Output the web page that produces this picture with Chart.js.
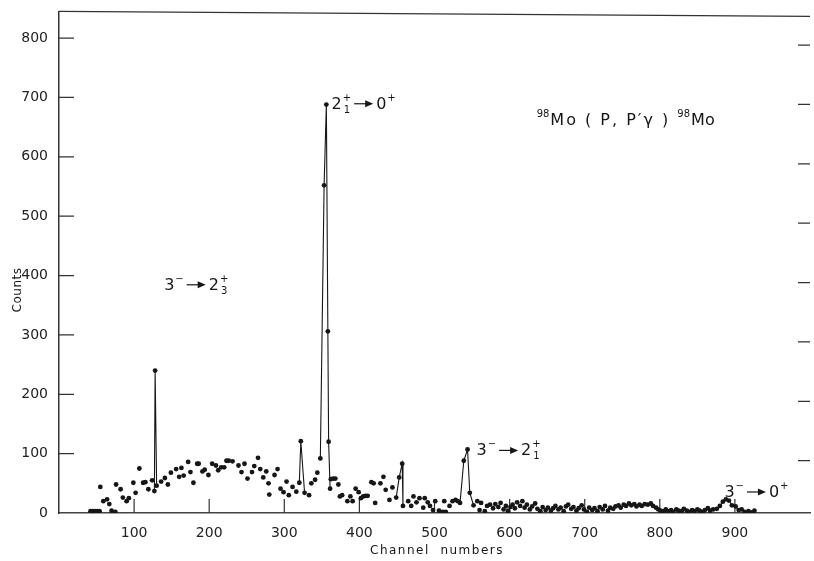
<!DOCTYPE html>
<html>
<head>
<meta charset="utf-8">
<title>98Mo(p,p'γ)98Mo spectrum</title>
<script src="https://cdn.jsdelivr.net/npm/chart.js@4/dist/chart.umd.min.js"></script>
<style>
  html, body { margin: 0; padding: 0; background: #fff; }
  #wrap { width: 814px; height: 561px; position: relative; }
</style>
</head>
<body>
<div id="wrap"><canvas id="spectrum"></canvas></div>
<script>
// channel numbers and counts (same order, same length)
const channels = [
  42, 45, 48, 51, 54, 55, 59, 64, 67, 70,
  75, 76, 82, 85, 90, 93, 99, 102, 107, 112,
  115, 119, 124, 127, 128, 130, 136, 141, 145, 149,
  156, 160, 163, 166, 172, 175, 179, 184, 186, 191,
  194, 199, 204, 209, 212, 216, 220, 223, 226, 231,
  239, 243, 247, 251, 257, 260, 265, 268, 272, 276,
  279, 280, 287, 291, 295, 299, 303, 306, 311, 316,
  320, 322, 327, 333, 336, 341, 344, 348, 353, 356,
  358, 359, 361, 362, 365, 368, 372, 374, 377, 384,
  388, 391, 395, 399, 402, 405, 408, 411, 416, 419,
  421, 428, 432, 435, 440, 444, 449, 453, 457, 458,
  465, 469, 472, 476, 480, 485, 487, 491, 494, 498,
  501, 506, 511, 513, 515, 520, 524, 528, 531, 534,
  539, 544, 547, 552, 557, 560, 562, 567, 570, 574,
  578, 581, 585, 588, 592, 595, 598, 601, 604, 607,
  610, 614, 617, 620, 623, 627, 630, 634, 637, 641,
  644, 648, 651, 655, 658, 661, 665, 668, 672, 675,
  678, 682, 685, 689, 692, 696, 699, 703, 706, 710,
  713, 717, 720, 724, 727, 731, 734, 738, 741, 745,
  748, 752, 755, 759, 762, 766, 769, 773, 776, 780,
  784, 788, 791, 795, 798, 801, 805, 808, 811, 815,
  818, 822, 825, 829, 832, 836, 839, 843, 846, 850,
  853, 857, 860, 864, 867, 871, 876, 880, 884, 888,
  892, 896, 901, 905, 909, 913, 918, 922, 926
];
const counts = [
  3, 3, 3, 3, 3, 44, 20, 23, 15, 4,
  2, 48, 40, 26, 20, 25, 51, 34, 75, 51,
  52, 40, 55, 37, 240, 46, 53, 59, 48, 68,
  74, 61, 76, 63, 86, 69, 51, 83, 83, 70,
  73, 64, 83, 80, 72, 77, 77, 88, 88, 87,
  80, 69, 83, 58, 69, 79, 93, 74, 60, 70,
  50, 31, 64, 74, 41, 35, 53, 30, 44, 36,
  51, 121, 34, 30, 50, 56, 68, 92, 552, 688,
  306, 120, 41, 57, 58, 58, 48, 28, 30, 20,
  28, 20, 41, 35, 25, 28, 29, 29, 52, 50,
  17, 50, 61, 39, 22, 43, 26, 60, 83, 12,
  20, 12, 28, 18, 25, 9, 25, 18, 12, 5,
  20, 4, 2, 20, 2, 12, 20, 22, 20, 17,
  88, 107, 34, 13, 20, 5, 17, 3, 12, 14,
  8, 15, 10, 17, 6, 12, 3, 10, 14, 8,
  18, 12, 20, 9, 14, 6, 11, 16, 7, 3,
  10, 5, 9, 4, 8, 12, 6, 9, 3, 11,
  14, 7, 10, 4, 8, 13, 6, 2, 9, 5,
  8, 3, 10, 6, 12, 4, 9, 7, 11, 13,
  9, 14, 12, 16, 13, 15, 11, 14, 12, 15,
  14, 16, 12, 9, 6, 4, 3, 6, 3, 5,
  2, 6, 4, 3, 7, 4, 2, 5, 3, 6,
  4, 2, 5, 8, 4, 6, 7, 12, 19, 23,
  21, 13, 11, 5, 6, 2, 3, 1, 4
];
// channel ranges where the points are joined by a line (the peaks)
const joinedRanges = [[126, 131], [319, 328], [347, 361], [448, 459], [533, 553], [592, 605], [786, 806], [874, 906]];

const xTickValues = [100, 200, 300, 400, 500, 600, 700, 800, 900];
const yTickValues = [0, 100, 200, 300, 400, 500, 600, 700, 800];

// peak labels: initial state -> final state
const transitionLabels = [
  { ch: 140, cnt: 376, from: ['3', '−', ''], to: ['2', '+', '3'] },
  { ch: 363, cnt: 681, from: ['2', '+', '1'], to: ['0', '+', ''] },
  { ch: 556, cnt: 97, from: ['3', '−', ''], to: ['2', '+', '1'] },
  { ch: 886, cnt: 27, from: ['3', '−', ''], to: ['0', '+', ''] }
];
const reactionLabel = { ch: 636, cnt: 654, mass: '98', text: 'Mo ( P, P′γ ) ', product: 'Mo' };

const FONT = '"DejaVu Sans", sans-serif';
const INK = '#161616';

const points = channels.map((c, i) => ({ x: c, y: counts[i] }));

function isJoined(a, b) {
  return joinedRanges.some(r => a >= r[0] && b <= r[1]);
}

function drawArrow(ctx, x, y) {
  ctx.beginPath();
  ctx.moveTo(x + 2, y);
  ctx.lineTo(x + 14, y);
  ctx.stroke();
  ctx.beginPath();
  ctx.moveTo(x + 21, y);
  ctx.lineTo(x + 13, y - 3.5);
  ctx.lineTo(x + 13, y + 3.5);
  ctx.closePath();
  ctx.fill();
  return 24;
}

// level symbol: big base, superscript parity, optional subscript index
function drawLevel(ctx, x, y, lvl) {
  ctx.font = '16px ' + FONT;
  ctx.fillText(lvl[0], x, y);
  let w = ctx.measureText(lvl[0]).width + 1;
  ctx.font = '10px ' + FONT;
  ctx.fillText(lvl[1], x + w, y - 8);
  let w2 = ctx.measureText(lvl[1]).width;
  if (lvl[2]) {
    ctx.fillText(lvl[2], x + w + 1, y + 4);
    w2 = Math.max(w2, ctx.measureText(lvl[2]).width + 1);
  }
  return w + w2 + 1;
}

const decorations = {
  id: 'decorations',
  beforeDatasetsDraw(chart) {
    const { ctx, chartArea: a, scales: { x, y } } = chart;
    ctx.save();
    ctx.strokeStyle = '#333';
    ctx.lineWidth = 1.2;
    ctx.beginPath();
    ctx.moveTo(a.left, a.top);
    ctx.lineTo(a.right, a.top + 5);
    yTickValues.forEach(v => {
      if (v === 0) return;
      const py = y.getPixelForValue(v);
      ctx.moveTo(a.left, py);
      ctx.lineTo(a.left + 15, py);
      ctx.moveTo(a.right - 12, py + 7);
      ctx.lineTo(a.right, py + 7);
    });
    xTickValues.forEach(v => {
      const px = x.getPixelForValue(v);
      ctx.moveTo(px, a.bottom);
      ctx.lineTo(px, a.bottom - 14);
    });
    ctx.stroke();
    ctx.restore();
  },
  afterDatasetsDraw(chart) {
    const { ctx, scales: { x, y } } = chart;
    ctx.save();
    ctx.fillStyle = INK;
    ctx.strokeStyle = INK;
    ctx.lineWidth = 1.2;
    ctx.textBaseline = 'alphabetic';
    ctx.textAlign = 'left';

    transitionLabels.forEach(t => {
      let px = x.getPixelForValue(t.ch);
      const py = y.getPixelForValue(t.cnt);
      px += drawLevel(ctx, px, py, t.from);
      px += drawArrow(ctx, px, py - 5);
      drawLevel(ctx, px, py, t.to);
    });

    // reaction
    let rx = x.getPixelForValue(reactionLabel.ch);
    const ry = y.getPixelForValue(reactionLabel.cnt);
    ctx.font = '10px ' + FONT;
    ctx.fillText(reactionLabel.mass, rx, ry - 8);
    rx += ctx.measureText(reactionLabel.mass).width + 1;
    ctx.font = '16px ' + FONT;
    ctx.letterSpacing = '2px';
    ctx.fillText(reactionLabel.text, rx, ry);
    rx += ctx.measureText(reactionLabel.text).width;
    ctx.letterSpacing = '0px';
    ctx.font = '10px ' + FONT;
    ctx.fillText(reactionLabel.mass, rx, ry - 8);
    rx += ctx.measureText(reactionLabel.mass).width + 1;
    ctx.font = '16px ' + FONT;
    ctx.fillText(reactionLabel.product, rx, ry);

    // axis titles
    ctx.font = '12px ' + FONT;
    ctx.textAlign = 'center';
    ctx.letterSpacing = '1.5px';
    ctx.fillText('Channel  numbers', 437, 554);
    ctx.letterSpacing = '0.5px';
    ctx.translate(21, 290);
    ctx.rotate(-Math.PI / 2);
    ctx.fillText('Counts', 0, 0);
    ctx.restore();
  }
};

new Chart(document.getElementById('spectrum'), {
  type: 'scatter',
  data: {
    datasets: [{
      data: points,
      showLine: true,
      borderWidth: 1.1,
      borderColor: INK,
      segment: {
        borderColor: ctx => isJoined(ctx.p0.parsed.x, ctx.p1.parsed.x) ? INK : 'rgba(0,0,0,0)'
      },
      pointRadius: 2.4,
      pointBorderWidth: 0,
      pointBackgroundColor: INK
    }]
  },
  options: {
    responsive: true,
    maintainAspectRatio: false,
    animation: false,
    layout: { padding: { top: 9, right: 0, bottom: 0, left: 0 } },
    plugins: { legend: { display: false }, tooltip: { enabled: false } },
    scales: {
      x: {
        type: 'linear',
        min: 0,
        max: 1000,
        afterBuildTicks: s => { s.ticks = xTickValues.map(v => ({ value: v })); },
        afterFit: s => { s.height = 48; },
        grid: { display: false },
        border: { display: true, color: '#444', width: 1.5 },
        ticks: { padding: 4, color: '#222', font: { family: FONT, size: 14 } }
      },
      y: {
        min: 0,
        max: 845,
        afterBuildTicks: s => { s.ticks = yTickValues.map(v => ({ value: v })); },
        afterFit: s => { s.width = 59; },
        grid: { display: false },
        border: { display: true, color: '#333', width: 1.5 },
        ticks: { padding: 3, color: '#222', font: { family: FONT, size: 14 } }
      }
    }
  },
  plugins: [decorations]
});
</script>
</body>
</html>
